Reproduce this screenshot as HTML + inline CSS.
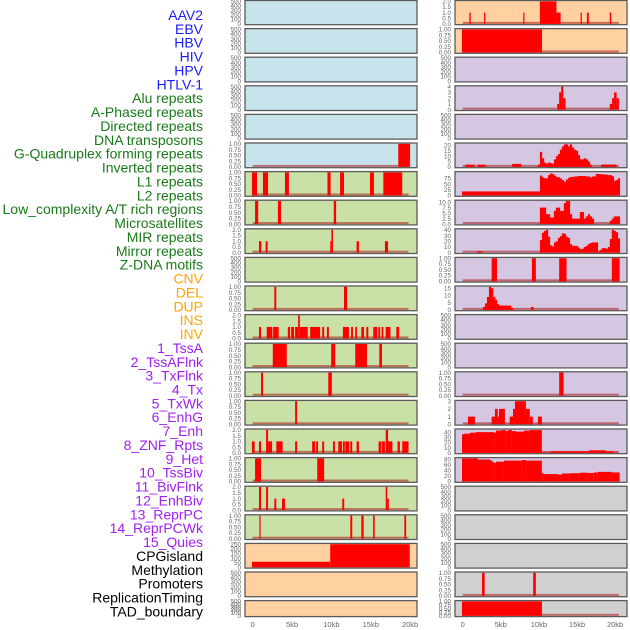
<!DOCTYPE html>
<html><head><meta charset="utf-8">
<style>
html,body{margin:0;padding:0;background:#fff;}
svg{display:block;font-family:"Liberation Sans",sans-serif;}
</style></head>
<body>
<svg id="chart" width="630" height="630" viewBox="0 0 630 630" xmlns="http://www.w3.org/2000/svg"></svg>
<script>
// ---------- data ----------
const trackLabels = ["AAV2","EBV","HBV","HIV","HPV","HTLV-1","Alu repeats","A-Phased repeats","Directed repeats","DNA transposons","G-Quadruplex forming repeats","Inverted repeats","L1 repeats","L2 repeats","Low_complexity A/T rich regions","Microsatellites","MIR repeats","Mirror repeats","Z-DNA motifs","CNV","DEL","DUP","INS","INV","1_TssA","2_TssAFlnk","3_TxFlnk","4_Tx","5_TxWk","6_EnhG","7_Enh","8_ZNF_Rpts","9_Het","10_TssBiv","11_BivFlnk","12_EnhBiv","13_ReprPC","14_ReprPCWk","15_Quies","CPGisland","Methylation","Promoters","ReplicationTiming","TAD_boundary"];
const labelGroups = [0,0,0,0,0,0,1,1,1,1,1,1,1,1,1,1,1,1,1,2,2,2,2,2,3,3,3,3,3,3,3,3,3,3,3,3,3,3,3,4,4,4,4,4];
const groupColors = ["#1a1aff","#1a7a1a","#ffa500","#a020f0","#000000"];
const xTickValues = [0,5,10,15,20];
const xTickLabels = ["0","5kb","10kb","15kb","20kb"];

// column 1 segments [startKb, endKb, value]
const c1r5 = [[18.5,20.0,1]];
const c1r6 = [[-0.1,0.55,1],[1.3,1.95,1],[4.1,4.6,1],[9.5,9.9,1],[11.1,11.6,1],[14.9,15.4,1],[16.6,19.0,1]];
const c1r7 = [[0.3,0.7,1],[3.2,3.6,1],[10.3,10.6,1]];
const c1r8 = [[0.8,1.1,1],[1.65,1.9,1],[9.85,10.0,1],[10.0,10.2,2],[13.2,13.5,1],[16.8,17.2,1]];
const c1r10 = [[2.75,3.0,1],[11.6,12.0,1]];
const c1r11 = [[0.8,1.06,1],[1.78,2.5,1],[2.6,3.3,1],[4.46,4.75,1],[4.88,5.26,1],[5.39,5.77,1],[5.77,5.99,2],[5.99,7.0,1],[7.3,8.57,1],[8.83,9.08,1],[9.43,9.68,1],[11.46,12.23,1],[12.5,12.74,1],[13.03,13.25,1],[13.8,14.14,1],[14.43,14.69,1],[15.32,15.83,1],[15.96,16.2,1],[16.38,16.6,1],[16.9,17.5,1],[18.25,18.6,1]];
const c1r12 = [[2.55,4.33,1],[9.97,10.48,1],[13.03,14.52,1],[16.09,16.43,1]];
const c1r13 = [[1.06,1.31,1],[9.6,10.06,1]];
const c1r14 = [[5.39,5.64,1]];
const c1r15 = [[-0.1,0.25,1],[0.8,1.06,1],[1.7,1.95,2],[1.95,2.46,1],[3.0,3.8,1],[5.39,5.64,1],[7.55,7.94,1],[8.06,8.3,1],[8.83,9.08,1],[10.2,10.45,1],[10.87,11.34,1],[11.46,11.7,1],[11.76,12.27,1],[12.4,12.65,1],[13.2,13.5,1],[16.0,16.3,1],[16.38,16.8,1],[16.9,17.2,2],[17.2,17.75,1],[18.4,18.7,1],[19.0,19.8,1]];
const c1r16 = [[0.3,1.06,1],[8.2,9.08,1]];
const c1r17 = [[0.8,1.06,2],[1.7,1.95,2],[2.75,3.0,1],[3.73,4.1,1],[11.38,11.63,1],[16.9,17.1,2],[17.1,17.3,1]];
const c1r18 = [[0.85,1.0,1],[12.4,12.65,1],[13.8,14.1,1],[15.3,15.5,1],[19.27,19.5,1]];
const c1r19 = [[-0.1,9.85,60],[9.85,19.95,250]];

// column 2 segments
const c2r0 = [[0.87,1.05,1],[2.8,2.96,1],[7.94,8.1,1],[10.13,12.3,2],[12.3,12.85,1],[15.47,15.63,1],[16.3,16.55,1],[19.3,19.5,1]];
const c2r1 = [[-0.1,10.4,1]];
const c2r3 = [[12.4,12.66,1],[12.66,12.92,3],[12.92,13.2,4],[13.2,13.5,2],[19.3,19.6,1],[19.6,19.87,2],[19.87,20.2,3],[20.2,20.5,2]];
const c2r5 = [[0.34,1.57,2.1],[1.97,3.0,2.1],[6.5,7.7,2.8],[18.17,20.18,2.2]];
const c2r5Bins = [2,14,8,4,3,4,3.5,3,7,10,12,16,19,21,21,19,21,18,16,15,11,7,7,8,7,5,2];
const c2r6 = [[-0.1,10.13,18]];
const c2r6Bins = [88,80,76,76,90,97,95,88,82,80,75,68,60,70,78,82,82,84,84,86,86,86,86,84,84,80,84,84,95,95,94,94,92,92,90,90,85,65,68,76];
const c2r7Bins = [7.5,7.5,7.5,4.5,4.5,3,3,6,7.5,7.5,6,6,9.5,10.5,10.5,4.5,2.5,2.5,2.5,2.5,5.5,5.5,2.5,3.5,4.5,3.5,2.5,0,0,0,0,0,0,0,0,1.5,2.5,3.5,3.5,3.5];
const c2r8 = [[1.9,2.6,2.5]];
const c2r8Bins = [22,35,38,40,28,13,11,18,20,26,29,34,33,28,26,15,12,12,12,9,6,7,10,12,15,17,18,18,18,2,5,8,8,7,10,24,40,38,36,25];
const c2r9 = [[3.8,4.5,1],[9.08,9.6,1],[12.66,13.63,1],[19.57,20.6,1]];
const c2r10 = [[8.95,9.3,2]];
const c2r10Bins = [2,4.5,9,16,15,9,7,4,3,3,3,3,3,3,1.5];
const c2r13 = [[12.66,13.24,1]];
const c2r14 = [[0.69,1.6,1],[3.8,4.23,1],[4.23,4.6,2],[4.6,4.76,1],[4.76,5.54,2],[6.16,6.6,1],[6.6,6.86,2],[6.86,8.3,3],[8.3,8.8,2],[8.8,9.2,1],[9.87,10.4,1]];
const c2r15 = [[-0.09,0.17,36],[0.17,0.96,37],[0.96,1.74,39],[1.74,4.1,40],[4.1,4.36,39],[4.36,5.15,43],[5.15,5.67,44],[5.67,5.94,42],[5.94,6.46,44],[6.46,6.99,42],[6.99,8.04,41],[8.04,8.82,43],[8.82,10.39,44],[10.39,11.57,1],[11.57,16.55,3],[16.55,18.78,5],[18.78,19.83,3],[19.83,20.36,1]];
const c2r16 = [[-0.09,2.0,84],[2.0,3.58,80],[3.58,3.84,77],[3.84,4.1,72],[4.1,4.36,68],[4.36,5.41,72],[5.41,7.77,76],[7.77,8.3,78],[8.3,10.39,76],[10.39,10.65,30],[10.65,12.49,27],[12.49,13.0,25],[13.0,14.06,29],[14.06,15.37,30],[15.37,16.42,32],[16.42,17.2,31],[17.2,17.73,33],[17.73,19.57,35],[19.57,20.6,33]];
const c2r20 = [[2.53,2.88,1],[9.25,9.6,1]];
const c2r21 = [[-0.1,10.4,1]];

// tick sets
const ticksEmpty = [0,100,200,300,400,500];
const ticksUnit = [0,0.25,0.5,0.75,1];
const ticksTwo = [0,0.5,1,1.5,2];
const ticksCpg = [0,50,100,150,200,250];

// ---------- layout ----------
const svg = document.getElementById('chart');
const NS = "http://www.w3.org/2000/svg";
const COLS = [{left:245,width:172,x0:252.7,k:7.87,baseEnd:19.8},{left:455,width:172,x0:462.7,k:7.62,baseEnd:20.5}];
const BG = {blue:"#c7e3eb",green:"#c9e0a6",orange:"#ffd0a0",purple:"#d5c6e2",gray:"#d0d0d0"};
function xs(col,kb){return COLS[col].x0 + kb*COLS[col].k;}
function rowTop(r){return r===0?0.5:r*28.6;}
function rowH(r){return r===21?16:(r===0?24.2:24.7);}
function mk(tag,attrs){const e=document.createElementNS(NS,tag);for(const a in attrs)e.setAttribute(a,attrs[a]);svg.appendChild(e);return e;}
function fmt(v,t){ if(t===ticksUnit) return v.toFixed(2); if(t===ticksTwo) return v.toFixed(1); if(t==='dec') return v.toFixed(1); return String(v);}

function bgFor(col,r){
  if(col===0){ if(r<=5) return BG.blue; if(r<=18) return BG.green; return BG.orange; }
  if(r<=1) return BG.orange; if(r<=16) return BG.purple; return BG.gray;
}

// panel definitions: [col,row,ticks,ymax,segs,bins,binStart,decTicks]
const W = 0.262;
const panelDefs = [];
for(let r=0;r<22;r++){ for(let c=0;c<2;c++){ panelDefs.push({col:c,row:r,ticks:ticksEmpty,ymax:500,segs:null,bins:null,bs:0,dec:false}); } }
function setP(c,r,o){ const p=panelDefs.find(q=>q.col===c&&q.row===r); Object.assign(p,o); }
setP(0,5,{ticks:ticksUnit,ymax:1,segs:c1r5});
setP(0,6,{ticks:ticksUnit,ymax:1,segs:c1r6});
setP(0,7,{ticks:ticksUnit,ymax:1,segs:c1r7});
setP(0,8,{ticks:ticksTwo,ymax:2,segs:c1r8});
setP(0,10,{ticks:ticksUnit,ymax:1,segs:c1r10});
setP(0,11,{ticks:ticksTwo,ymax:2,segs:c1r11});
setP(0,12,{ticks:ticksUnit,ymax:1,segs:c1r12});
setP(0,13,{ticks:ticksUnit,ymax:1,segs:c1r13});
setP(0,14,{ticks:ticksUnit,ymax:1,segs:c1r14});
setP(0,15,{ticks:ticksTwo,ymax:2,segs:c1r15});
setP(0,16,{ticks:ticksUnit,ymax:1,segs:c1r16});
setP(0,17,{ticks:ticksTwo,ymax:2,segs:c1r17});
setP(0,18,{ticks:ticksUnit,ymax:1,segs:c1r18});
setP(0,19,{ticks:ticksCpg,ymax:250,segs:c1r19});
setP(1,0,{ticks:ticksTwo,ymax:2,segs:c2r0});
setP(1,1,{ticks:ticksUnit,ymax:1,segs:c2r1});
setP(1,3,{ticks:[0,1,2,3,4],ymax:4,segs:c2r3});
setP(1,5,{ticks:[0,5,10,15,20],ymax:21.5,segs:c2r5,bins:c2r5Bins,bs:9.87});
setP(1,6,{ticks:[0,25,50,75],ymax:102,segs:c2r6,bins:c2r6Bins,bs:10.13});
setP(1,7,{ticks:[0,2.5,5,7.5,10],ymax:10.5,segs:[],bins:c2r7Bins,bs:10.13,dec:true});
setP(1,8,{ticks:[0,10,20,30,40],ymax:40.5,segs:c2r8,bins:c2r8Bins,bs:10.13});
setP(1,9,{ticks:ticksUnit,ymax:1,segs:c2r9});
setP(1,10,{ticks:[0,5,10,15],ymax:16,segs:c2r10,bins:c2r10Bins,bs:2.66});
setP(1,13,{ticks:ticksUnit,ymax:1,segs:c2r13});
setP(1,14,{ticks:[0,1,2,3],ymax:3,segs:c2r14});
setP(1,15,{ticks:[0,10,20,30,40],ymax:44.5,segs:c2r15});
setP(1,16,{ticks:[0,20,40,60,80],ymax:84,segs:c2r16});
setP(1,20,{ticks:ticksUnit,ymax:1,segs:c2r20});
setP(1,21,{ticks:ticksUnit,ymax:1,segs:c2r21});

// ---------- draw panels ----------
panelDefs.forEach(p=>{
  const C=COLS[p.col], T=rowTop(p.row), H=rowH(p.row);
  const yb=T+H-0.8, yt=T+0.8;
  const ys=v=>yb-(v/p.ymax)*(yb-yt);
  const bg=mk('rect',{x:C.left,y:T,width:C.width,height:H,fill:bgFor(p.col,p.row)});
  
  
  const hasData = p.segs!==null;
  if(hasData){
    const bl=mk('rect',{x:xs(p.col,0),y:yb-2,width:xs(p.col,C.baseEnd)-xs(p.col,0),height:2,fill:"rgba(170,20,20,0.55)"});
    
    
    p.segs.forEach(s=>{
      const x1=xs(p.col,s[0]),x2=xs(p.col,s[1]);
      const b=mk('rect',{x:x1,y:ys(s[2]),width:Math.max(1.2,x2-x1),height:yb-ys(s[2]),fill:"#ff0000"});
      
      
    });
    if(p.bins){
      p.bins.forEach((v,i)=>{
        if(v<=0) return;
        const x1=xs(p.col,p.bs+i*W),x2=xs(p.col,p.bs+(i+1)*W);
        const b=mk('rect',{x:x1,y:ys(v),width:x2-x1+0.3,height:yb-ys(v),fill:"#ff0000"});
        
        
      });
    }
  }
  const fr=mk('rect',{x:C.left,y:T,width:C.width,height:H,fill:"none",stroke:"#5a5a5a","stroke-width":1.3});
  
  
  // y ticks
  const tx = C.left-4;
  p.ticks.forEach(v=>{
    const t=mk('text',{x:tx,y:ys(v)+2.2,"text-anchor":"end","font-size":"6.3",fill:"#666"});
    t.textContent = p.dec ? v.toFixed(1) : fmt(v,p.ticks);
    
    
  });
});

// x axis labels
[0,1].forEach(c=>{
  xTickValues.forEach((v,i)=>{
    const t=mk('text',{x:xs(c,v),y:627,"text-anchor":"middle","font-size":"7.5",fill:"#666"});
    t.textContent=xTickLabels[i];
    
    
  });
});

// track labels
trackLabels.forEach((name,i)=>{
  const t=mk('text',{x:203,y:20+i*13.87,"text-anchor":"end","font-size":"14",fill:groupColors[labelGroups[i]]});
  t.textContent=name;
  
  
});
</script>
</body></html>
